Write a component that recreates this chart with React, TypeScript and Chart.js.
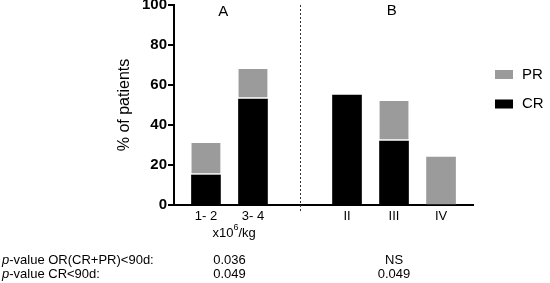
import React, { useEffect, useRef } from 'react';
import { Chart, registerables } from 'chart.js';

Chart.register(...registerables);

const categories = ['1- 2', '3- 4', '', 'II', 'III', 'IV'];
const crValues: (number | null)[] = [15, 53, null, 55, 32, null];
const prValues: (number | null)[] = [16, 15, null, null, 20, 24];
const yTickValues = [0, 20, 40, 60, 80, 100];
const groupLabels = ['A', 'B'];
const pRowLabels = ['-value OR(CR+PR)<90d:', '-value CR<90d:'];
const pValuesA = ['0.036', '0.049'];
const pValuesB = ['NS', '0.049'];
const legendItems = ['PR', 'CR'];

const FONT = '"Liberation Sans", Arial, sans-serif';
const PR_COLOR = '#9b9b9b';
const CR_COLOR = '#000000';

const overlayPlugin = {
  id: 'overlay',
  afterDraw(chart: any) {
    const ctx = chart.ctx;
    const xs = chart.scales.x;
    const area = chart.chartArea;
    ctx.save();
    // dashed separator
    const sx = Math.round(xs.getPixelForValue(2)) + 0.5;
    ctx.strokeStyle = '#333';
    ctx.lineWidth = 1;
    ctx.setLineDash([2, 2]);
    ctx.beginPath();
    ctx.moveTo(sx, area.top);
    ctx.lineTo(sx, area.bottom + 7);
    ctx.stroke();
    ctx.setLineDash([]);

    ctx.fillStyle = '#000';
    ctx.textBaseline = 'middle';
    ctx.textAlign = 'center';
    ctx.font = `15px ${FONT}`;
    ctx.fillText(groupLabels[0], xs.getPixelForValue(0.37), 12);
    ctx.fillText(groupLabels[1], xs.getPixelForValue(3.95), 11);

    // x10^6/kg
    const unitY = 233;
    ctx.font = `13px ${FONT}`;
    const w1 = ctx.measureText('x10').width;
    const w3 = ctx.measureText('/kg').width;
    ctx.font = `9px ${FONT}`;
    const w2 = ctx.measureText('6').width;
    const cx = xs.getPixelForValue(0.6);
    let ux = cx - (w1 + w2 + w3) / 2;
    ctx.textAlign = 'left';
    ctx.font = `13px ${FONT}`;
    ctx.fillText('x10', ux, unitY);
    ux += w1;
    ctx.font = `9px ${FONT}`;
    ctx.fillText('6', ux, unitY - 5);
    ux += w2;
    ctx.font = `13px ${FONT}`;
    ctx.fillText('/kg', ux, unitY);

    // p-value rows
    const rowYs = [260, 274];
    pRowLabels.forEach((lbl, i) => {
      ctx.textAlign = 'left';
      ctx.font = `italic 13px ${FONT}`;
      ctx.fillText('p', 2, rowYs[i]);
      const pw = ctx.measureText('p').width;
      ctx.font = `13px ${FONT}`;
      ctx.fillText(lbl, 2 + pw, rowYs[i]);
      ctx.textAlign = 'center';
      ctx.fillText(pValuesA[i], xs.getPixelForValue(0.5), rowYs[i]);
      ctx.fillText(pValuesB[i], xs.getPixelForValue(4), rowYs[i]);
    });

    // legend
    const legColors = [PR_COLOR, CR_COLOR];
    const legYs = [74.5, 104];
    legendItems.forEach((t, i) => {
      ctx.fillStyle = legColors[i];
      ctx.fillRect(495, legYs[i] - 4.5, 18, 9);
      ctx.fillStyle = '#000';
      ctx.textAlign = 'left';
      ctx.font = `15px ${FONT}`;
      ctx.fillText(t, 522, legYs[i]);
    });
    ctx.restore();
  },
};

export default function App() {
  const ref = useRef<HTMLCanvasElement | null>(null);
  useEffect(() => {
    if (!ref.current) return;
    const chart = new Chart(ref.current, {
      type: 'bar',
      data: {
        datasets: [
          {
            label: 'CR',
            data: crValues.map((v, i) => ({ x: i, y: v })) as any,
            backgroundColor: CR_COLOR,
            borderWidth: 0,
            barThickness: 29,
          },
          {
            label: 'PR',
            data: prValues.map((v, i) => ({ x: i, y: v })) as any,
            backgroundColor: PR_COLOR,
            borderColor: '#ffffff',
            borderWidth: ((c: any) =>
              crValues[c.dataIndex] ? { top: 0, left: 0, right: 0, bottom: 2 } : 0) as any,
            borderSkipped: false,
            barThickness: 29,
          },
        ],
      },
      options: {
        animation: false,
        responsive: false,
        maintainAspectRatio: false,
        layout: { padding: { top: 5, right: 77, left: 0, bottom: 0 } },
        plugins: { legend: { display: false }, tooltip: { enabled: false } },
        scales: {
          x: {
            type: 'linear',
            min: -0.68,
            max: 5.68,
            offset: false,
            stacked: true,
            grid: { display: false, drawTicks: false, offset: false },
            border: { color: '#000', width: 2 },
            afterBuildTicks: (s: any) => {
              s.ticks = categories.map((_, i) => ({ value: i }));
            },
            afterFit: (s: any) => {
              s.height = 78;
              s.paddingLeft = 0;
              s.paddingRight = 0;
            },
            ticks: {
              autoSkip: false,
              maxRotation: 0,
              padding: 4,
              color: '#000',
              font: { family: FONT, size: 13 },
              callback: (v: any) => categories[v] ?? '',
            },
          },
          y: {
            min: 0,
            max: 100,
            stacked: true,
            afterBuildTicks: (s: any) => {
              s.ticks = yTickValues.map((v) => ({ value: v }));
            },
            afterFit: (s: any) => {
              s.width = 174;
              s.paddingTop = 0;
              s.paddingBottom = 0;
            },
            grid: { drawOnChartArea: false, drawTicks: true, tickLength: 6, color: '#000', lineWidth: 2 },
            border: { color: '#000', width: 2 },
            ticks: {
              padding: 1,
              color: '#000',
              font: { family: FONT, size: 15, weight: 'bold' },
            },
            title: {
              display: true,
              text: '% of patients',
              color: '#000',
              font: { family: FONT, size: 16 },
              padding: { top: 115, bottom: 0 },
            },
          },
        },
      },
      plugins: [overlayPlugin],
    });
    return () => chart.destroy();
  }, []);
  return (
    <div style={{ position: 'fixed', left: 0, top: 0, width: 550, height: 283, background: '#fff' }}>
      <canvas ref={ref} width={550} height={283} style={{ width: 550, height: 283 }} />
    </div>
  );
}
